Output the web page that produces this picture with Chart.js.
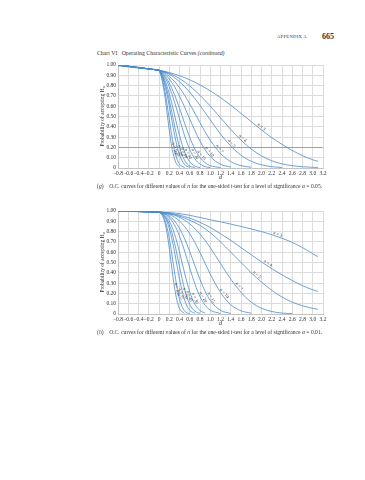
<!DOCTYPE html>
<html>
<head>
<meta charset="utf-8">
<script src="https://cdn.jsdelivr.net/npm/chart.js@4.4.1/dist/chart.umd.min.js"></script>
<style>
  body { margin: 0; background: #fff; width: 365px; height: 480px; position: relative; overflow: hidden; font-family: 'Liberation Serif', serif; color: #333; }
  .txt { position: absolute; white-space: nowrap; line-height: 1; }
  canvas { position: absolute; }
</style>
</head>
<body>
<div class="txt" style="left:277px; top:35px; font-size:4.6px; letter-spacing:0.3px;">APPENDIX A</div>
<div class="txt" style="left:322px; top:33px; font-size:8px; font-weight:bold;">665</div>
<div class="txt" style="left:97px; top:51px; font-size:5.8px;">Chart VI&nbsp;&nbsp; Operating Characteristic Curves <i>(continued)</i></div>
<canvas id="chartG" width="240" height="126" style="left:90px; top:58px;"></canvas>
<div class="txt" style="left:97px; top:184px; font-size:5.6px;">(<i>g</i>)&nbsp;&nbsp;&nbsp; <i>O.C.</i> curves for different values of <i>n</i> for the one-sided <i>t</i>-test for a level of significance <i>α</i> = 0.05.</div>
<canvas id="chartH" width="240" height="126" style="left:90px; top:204px;"></canvas>
<div class="txt" style="left:97px; top:330px; font-size:5.6px;">(<i>h</i>)&nbsp;&nbsp;&nbsp; <i>O.C.</i> curves for different values of <i>n</i> for the one-sided <i>t</i>-test for a level of significance <i>α</i> = 0.01.</div>
<script>
// sample sizes, one curve each
const nValues = [3, 4, 5, 7, 10, 15, 20, 30, 40, 50, 75, 100];

const dGrid = [0, 0.05, 0.1, 0.15, 0.2, 0.25, 0.3, 0.35, 0.4, 0.5, 0.6, 0.7, 0.8, 0.9, 1.0,
               1.2, 1.4, 1.6, 1.8, 2.0, 2.2, 2.4, 2.6, 2.8, 3.0, 3.1];

const xTickLabels = ['\u22120.8', '\u22120.6', '\u22120.4', '\u22120.2', '0', '0.2', '0.4', '0.6', '0.8', '1.0',
                     '1.2', '1.4', '1.6', '1.8', '2.0', '2.2', '2.4', '2.6', '2.8', '3.0', '3.2'];
const yTickLabels = ['0', '0.10', '0.20', '0.30', '0.40', '0.50', '0.60', '0.70', '0.80', '0.90', '1.00'];

const _ = null;

// (g) alpha = 0.05 : value at d = -0.8, then values on dGrid
const startG = [0.992, 0.997, 0.999, 1, 1, 1, 1, 1, 1, 1, 1, 1];
const betaG = [
  [0.95, _, _, _, 0.927, _, _, _, 0.896, _, 0.856, _, 0.807, _, 0.749, 0.683, 0.61, 0.53, 0.45, 0.37, 0.295, 0.23, 0.17, 0.12, 0.08, 0.065],
  [0.95, _, _, _, 0.92, _, _, _, 0.869, _, 0.797, _, 0.706, _, 0.601, 0.487, 0.374, 0.271, 0.184, 0.117, 0.07, 0.04, 0.022, 0.012, 0.007, 0.005],
  [0.95, _, _, _, 0.911, _, _, _, 0.838, _, 0.736, _, 0.608, _, 0.467, 0.33, 0.213, 0.124, 0.065, 0.031, 0.013, 0.005],
  [0.95, _, 0.928, _, 0.891, _, 0.842, _, 0.78, 0.706, 0.622, 0.532, 0.44, 0.351, 0.27, 0.141, 0.062, 0.023, 0.007],
  [0.95, _, 0.918, _, 0.865, _, 0.792, _, 0.699, 0.591, 0.476, 0.363, 0.261, 0.176, 0.111, 0.036, 0.009],
  [0.95, 0.932, 0.904, 0.869, 0.825, 0.774, 0.715, 0.65, 0.58, 0.434, 0.297, 0.184, 0.102, 0.051, 0.023, 0.004],
  [0.95, 0.926, 0.891, 0.846, 0.789, 0.722, 0.645, 0.563, 0.477, 0.313, 0.179, 0.089, 0.038, 0.014, 0.004],
  [0.95, 0.918, 0.87, 0.804, 0.722, 0.626, 0.522, 0.416, 0.316, 0.155, 0.061, 0.019, 0.004],
  [0.95, 0.911, 0.849, 0.765, 0.66, 0.541, 0.417, 0.302, 0.203, 0.073, 0.019, 0.004],
  [0.95, 0.904, 0.83, 0.728, 0.602, 0.464, 0.331, 0.216, 0.128, 0.033, 0.006],
  [0.95, 0.889, 0.786, 0.642, 0.474, 0.311, 0.178, 0.088, 0.037, 0.004],
  [0.95, 0.875, 0.744, 0.563, 0.368, 0.202, 0.092, 0.034, 0.01]
];
const labelAtG = [1.97, 1.6, 1.38, 1.15, 0.95, 0.79, 0.66, 0.53, 0.45, 0.38, 0.31, 0.26];

// (h) alpha = 0.01
const startH = [0.997, 0.999, 1, 1, 1, 1, 1, 1, 1, 1, 1, 1];
const betaH = [
  [0.99, _, _, _, 0.985, _, _, _, 0.975, _, 0.958, _, 0.937, _, 0.915, 0.895, 0.873, 0.85, 0.826, 0.80, 0.77, 0.735, 0.695, 0.645, 0.585, 0.555],
  [0.99, _, _, _, 0.98, _, _, _, 0.96, _, 0.93, _, 0.89, _, 0.84, 0.78, 0.715, 0.645, 0.575, 0.505, 0.44, 0.38, 0.325, 0.275, 0.235, 0.22],
  [0.99, _, _, _, 0.975, _, _, _, 0.95, _, 0.91, _, 0.86, _, 0.79, 0.70, 0.60, 0.50, 0.40, 0.31, 0.23, 0.165, 0.115, 0.08, 0.055, 0.045],
  [0.99, _, 0.984, _, 0.974, _, 0.959, _, 0.939, 0.911, 0.875, 0.83, 0.776, 0.714, 0.644, 0.49, 0.339, 0.21, 0.115, 0.056, 0.024, 0.009, 0.003],
  [0.99, _, 0.982, _, 0.966, _, 0.941, _, 0.903, 0.849, 0.779, 0.694, 0.596, 0.492, 0.388, 0.209, 0.09, 0.031, 0.008],
  [0.99, 0.985, 0.978, 0.966, 0.951, 0.931, 0.905, 0.872, 0.832, 0.731, 0.606, 0.469, 0.335, 0.22, 0.132, 0.035, 0.006],
  [0.99, 0.984, 0.973, 0.958, 0.936, 0.906, 0.866, 0.816, 0.756, 0.611, 0.447, 0.292, 0.169, 0.085, 0.037, 0.005],
  [0.99, 0.981, 0.966, 0.941, 0.903, 0.851, 0.782, 0.698, 0.602, 0.396, 0.216, 0.096, 0.034, 0.009],
  [0.99, 0.979, 0.958, 0.923, 0.869, 0.792, 0.695, 0.581, 0.46, 0.239, 0.093, 0.027, 0.006],
  [0.99, 0.977, 0.951, 0.904, 0.832, 0.732, 0.609, 0.473, 0.34, 0.136, 0.037, 0.007],
  [0.99, 0.972, 0.931, 0.855, 0.737, 0.583, 0.415, 0.261, 0.143, 0.028, 0.003],
  [0.99, 0.967, 0.911, 0.803, 0.641, 0.447, 0.265, 0.131, 0.053, 0.005]
];
const labelAtH = [2.3, 2.1, 1.88, 1.53, 1.24, 0.98, 0.82, 0.66, 0.55, 0.47, 0.38, 0.31];

const curveColor = '#4a8bc9';
const gridColor = '#dcdcdc';
const textColor = '#333';

Chart.defaults.font.family = "'Liberation Serif', 'Times New Roman', serif";
Chart.defaults.color = textColor;

function curvePoints(row) {
  const pts = [];
  row.forEach((v, i) => { if (v !== null) pts.push({ x: dGrid[i], y: v }); });
  return pts;
}

function valueAt(pts, d) {
  for (let i = 1; i < pts.length; i++) {
    if (d <= pts[i].x) {
      const a = pts[i - 1], b = pts[i];
      return a.y + (b.y - a.y) * (d - a.x) / (b.x - a.x);
    }
  }
  return pts[pts.length - 1].y;
}

// "n = .." labels written along each curve
const curveLabels = {
  id: 'curveLabels',
  afterDatasetsDraw(chart, args, opts) {
    const { ctx, scales: { x, y } } = chart;
    ctx.save();
    ctx.fillStyle = textColor;
    opts.rows.forEach((row, k) => {
      const pts = curvePoints(row);
      const d = opts.at[k];
      const px = x.getPixelForValue(d), py = y.getPixelForValue(valueAt(pts, d));
      const qx = x.getPixelForValue(d + 0.02), qy = y.getPixelForValue(valueAt(pts, d + 0.02));
      const ang = Math.atan2(qy - py, qx - px);
      ctx.setTransform(1, 0, 0, 1, 0, 0);
      ctx.translate(px, py);
      ctx.rotate(ang);
      ctx.font = "italic 4.4px 'Liberation Serif'";
      const w1 = ctx.measureText('n').width;
      ctx.font = "4.4px 'Liberation Serif'";
      const rest = ' = ' + nValues[k];
      const w = w1 + ctx.measureText(rest).width;
      ctx.font = "italic 4.4px 'Liberation Serif'";
      ctx.fillText('n', -w / 2, -1.2);
      ctx.font = "4.4px 'Liberation Serif'";
      ctx.fillText(rest, -w / 2 + w1, -1.2);
    });
    ctx.restore();
  }
};

function makeChart(id, start, rows, labelAt, darkRow) {
  const datasets = [];
  rows.forEach((row, k) => {
    datasets.push({
      data: [{ x: -0.8, y: start[k] }, { x: 0, y: row[0] }],
      borderColor: curveColor, borderWidth: 0.8, pointRadius: 0, tension: 0
    });
    datasets.push({
      data: curvePoints(row),
      borderColor: curveColor, borderWidth: 0.8, pointRadius: 0,
      cubicInterpolationMode: 'monotone'
    });
  });

  new Chart(document.getElementById(id), {
    type: 'line',
    data: { datasets: datasets },
    plugins: [curveLabels],
    options: {
      responsive: false,
      animation: false,
      layout: { padding: { top: 7, right: 7, left: 0, bottom: 0 } },
      plugins: {
        legend: { display: false },
        tooltip: { enabled: false },
        curveLabels: { rows: rows, at: labelAt }
      },
      scales: {
        x: {
          type: 'linear', min: -0.8, max: 3.2,
          afterFit: s => { s.height = 16; },
          grid: { color: gridColor, drawTicks: false },
          border: { color: '#c4c4c4' },
          ticks: {
            stepSize: 0.2, autoSkip: false, maxRotation: 0, padding: 2,
            font: { size: 5.5 },
            callback: (v, i) => xTickLabels[i]
          },
          title: { display: true, text: 'd', font: { size: 6, style: 'italic' }, padding: { top: 0, bottom: 3 } }
        },
        y: {
          min: 0, max: 1,
          afterFit: s => { s.width = 28; },
          grid: {
            drawTicks: false,
            color: c => (darkRow && c.tick && Math.abs(c.tick.value - 0.2) < 1e-6) ? '#a0a0a0' : gridColor
          },
          border: { color: '#c4c4c4' },
          ticks: {
            stepSize: 0.1, padding: 2,
            font: { size: 5.5 },
            callback: (v, i) => yTickLabels[i]
          },
          title: { display: true, text: 'Probability of accepting H\u2080', font: { size: 5.5 }, padding: { top: 9, bottom: 0 } }
        }
      }
    }
  });
}

makeChart('chartG', startG, betaG, labelAtG, true);
makeChart('chartH', startH, betaH, labelAtH, false);
</script>
</body>
</html>
